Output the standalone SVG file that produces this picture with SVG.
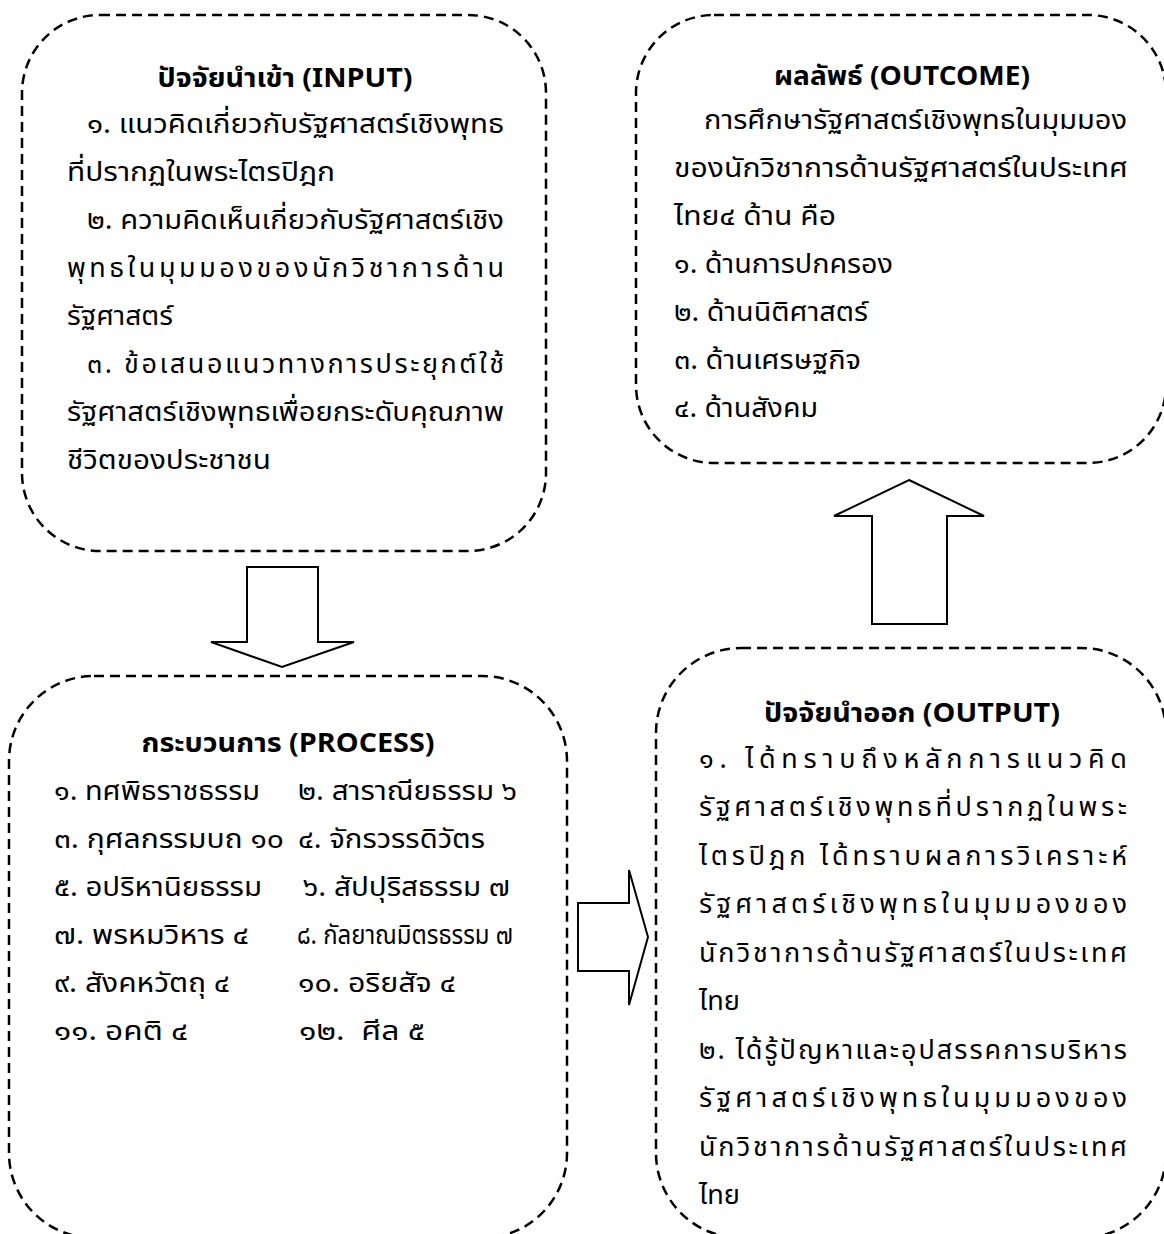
<svg xmlns="http://www.w3.org/2000/svg" width="1164" height="1234" viewBox="0 0 1164 1234">
<style>
.box{fill:none;stroke:#000;stroke-width:2.5;stroke-dasharray:10 6}
.arrow{fill:#fff;stroke:#000;stroke-width:2;stroke-linejoin:miter}
text{font-family:"Noto Sans Thai","Noto Sans","DejaVu Sans",sans-serif;fill:#000}
.t{font-size:27px;font-weight:bold;text-anchor:middle}
.b{font-size:27px}
</style>
<rect width="1164" height="1234" fill="#fff"/>
<g id="input">
<rect class="box" x="22" y="15" width="524" height="536" rx="78"/>
<text class="t" x="285" y="87" textLength="255" lengthAdjust="spacingAndGlyphs">ปัจจัยนำเข้า (INPUT)</text>
<text class="b" x="87" y="133" textLength="417" lengthAdjust="spacingAndGlyphs">๑. แนวคิดเกี่ยวกับรัฐศาสตร์เชิงพุทธ</text>
<text class="b" x="67" y="181" textLength="268" lengthAdjust="spacingAndGlyphs">ที่ปรากฏในพระไตรปิฎก</text>
<text class="b" x="87" y="229" textLength="417" lengthAdjust="spacingAndGlyphs">๒. ความคิดเห็นเกี่ยวกับรัฐศาสตร์เชิง</text>
<text class="b" x="67" y="277" textLength="437" lengthAdjust="spacing">พุทธในมุมมองของนักวิชาการด้าน</text>
<text class="b" x="67" y="325" textLength="106" lengthAdjust="spacingAndGlyphs">รัฐศาสตร์</text>
<text class="b" x="87" y="373" textLength="417" lengthAdjust="spacing">๓. ข้อเสนอแนวทางการประยุกต์ใช้</text>
<text class="b" x="67" y="421" textLength="437" lengthAdjust="spacingAndGlyphs">รัฐศาสตร์เชิงพุทธเพื่อยกระดับคุณภาพ</text>
<text class="b" x="67" y="469" textLength="204" lengthAdjust="spacingAndGlyphs">ชีวิตของประชาชน</text>
</g>
<g id="outcome">
<rect class="box" x="636" y="15" width="530" height="448" rx="78"/>
<text class="t" x="902" y="85" textLength="256" lengthAdjust="spacingAndGlyphs">ผลลัพธ์ (OUTCOME)</text>
<text class="b" x="704" y="129" textLength="423" lengthAdjust="spacingAndGlyphs">การศึกษารัฐศาสตร์เชิงพุทธในมุมมอง</text>
<text class="b" x="674" y="177" textLength="454" lengthAdjust="spacingAndGlyphs">ของนักวิชาการด้านรัฐศาสตร์ในประเทศ</text>
<text class="b" x="674" y="225" textLength="162" lengthAdjust="spacingAndGlyphs">ไทย๔ ด้าน คือ</text>
<text class="b" x="674" y="273" textLength="219" lengthAdjust="spacingAndGlyphs">๑. ด้านการปกครอง</text>
<text class="b" x="674" y="321" textLength="194" lengthAdjust="spacingAndGlyphs">๒. ด้านนิติศาสตร์</text>
<text class="b" x="674" y="369" textLength="187" lengthAdjust="spacingAndGlyphs">๓. ด้านเศรษฐกิจ</text>
<text class="b" x="674" y="417" textLength="144" lengthAdjust="spacingAndGlyphs">๔. ด้านสังคม</text>
</g>
<g id="process">
<rect class="box" x="9" y="676" width="558" height="562" rx="85"/>
<text class="t" x="288" y="752" textLength="293" lengthAdjust="spacingAndGlyphs">กระบวนการ (PROCESS)</text>
<text class="b" x="54" y="800" textLength="206" lengthAdjust="spacingAndGlyphs">๑. ทศพิธราชธรรม</text>
<text class="b" x="298" y="800" textLength="219" lengthAdjust="spacingAndGlyphs">๒. สาราณียธรรม ๖</text>
<text class="b" x="54" y="848" textLength="230" lengthAdjust="spacingAndGlyphs">๓. กุศลกรรมบถ ๑๐</text>
<text class="b" x="298" y="848" textLength="187" lengthAdjust="spacingAndGlyphs">๔. จักรวรรดิวัตร</text>
<text class="b" x="54" y="896" textLength="208" lengthAdjust="spacingAndGlyphs">๕. อปริหานิยธรรม</text>
<text class="b" x="303" y="896" textLength="207" lengthAdjust="spacingAndGlyphs">๖. สัปปุริสธรรม ๗</text>
<text class="b" x="54" y="944" textLength="195" lengthAdjust="spacingAndGlyphs">๗. พรหมวิหาร ๔</text>
<text class="b" x="297" y="944" textLength="216" lengthAdjust="spacingAndGlyphs">๘. กัลยาณมิตรธรรม ๗</text>
<text class="b" x="54" y="992" textLength="176" lengthAdjust="spacingAndGlyphs">๙. สังคหวัตถุ ๔</text>
<text class="b" x="298" y="992" textLength="158" lengthAdjust="spacingAndGlyphs">๑๐. อริยสัจ ๔</text>
<text class="b" x="54" y="1040" textLength="134" lengthAdjust="spacingAndGlyphs">๑๑. อคติ ๔</text>
<text class="b" x="299" y="1040" textLength="126" lengthAdjust="spacingAndGlyphs" style="white-space:pre">๑๒.  ศีล ๕</text>
</g>
<g id="output">
<rect class="box" x="656" y="648" width="510" height="590" rx="85"/>
<text class="t" x="912" y="722" textLength="296" lengthAdjust="spacingAndGlyphs">ปัจจัยนำออก (OUTPUT)</text>
<text class="b" x="699" y="768" textLength="428" lengthAdjust="spacing">๑. ได้ทราบถึงหลักการแนวคิด</text>
<text class="b" x="699" y="816" textLength="428" lengthAdjust="spacing">รัฐศาสตร์เชิงพุทธที่ปรากฏในพระ</text>
<text class="b" x="699" y="865" textLength="428" lengthAdjust="spacing">ไตรปิฎก ได้ทราบผลการวิเคราะห์</text>
<text class="b" x="699" y="913" textLength="428" lengthAdjust="spacing">รัฐศาสตร์เชิงพุทธในมุมมองของ</text>
<text class="b" x="699" y="962" textLength="428" lengthAdjust="spacing">นักวิชาการด้านรัฐศาสตร์ในประเทศ</text>
<text class="b" x="699" y="1010" textLength="41" lengthAdjust="spacingAndGlyphs">ไทย</text>
<text class="b" x="699" y="1059" textLength="428" lengthAdjust="spacing">๒. ได้รู้ปัญหาและอุปสรรคการบริหาร</text>
<text class="b" x="699" y="1107" textLength="428" lengthAdjust="spacing">รัฐศาสตร์เชิงพุทธในมุมมองของ</text>
<text class="b" x="699" y="1156" textLength="428" lengthAdjust="spacing">นักวิชาการด้านรัฐศาสตร์ในประเทศ</text>
<text class="b" x="699" y="1204" textLength="41" lengthAdjust="spacingAndGlyphs">ไทย</text>
</g>
<g id="connectors">
<polygon class="arrow" points="247,567 318,567 318,642 354,642 282,667 211,642 247,642"/>
<polygon class="arrow" points="578,903 629,903 629,870 648,937 629,1005 629,971 578,971"/>
<polygon class="arrow" points="909,480 984,516 947,516 947,624 872,624 872,516 834,516"/>
</g>
</svg>
